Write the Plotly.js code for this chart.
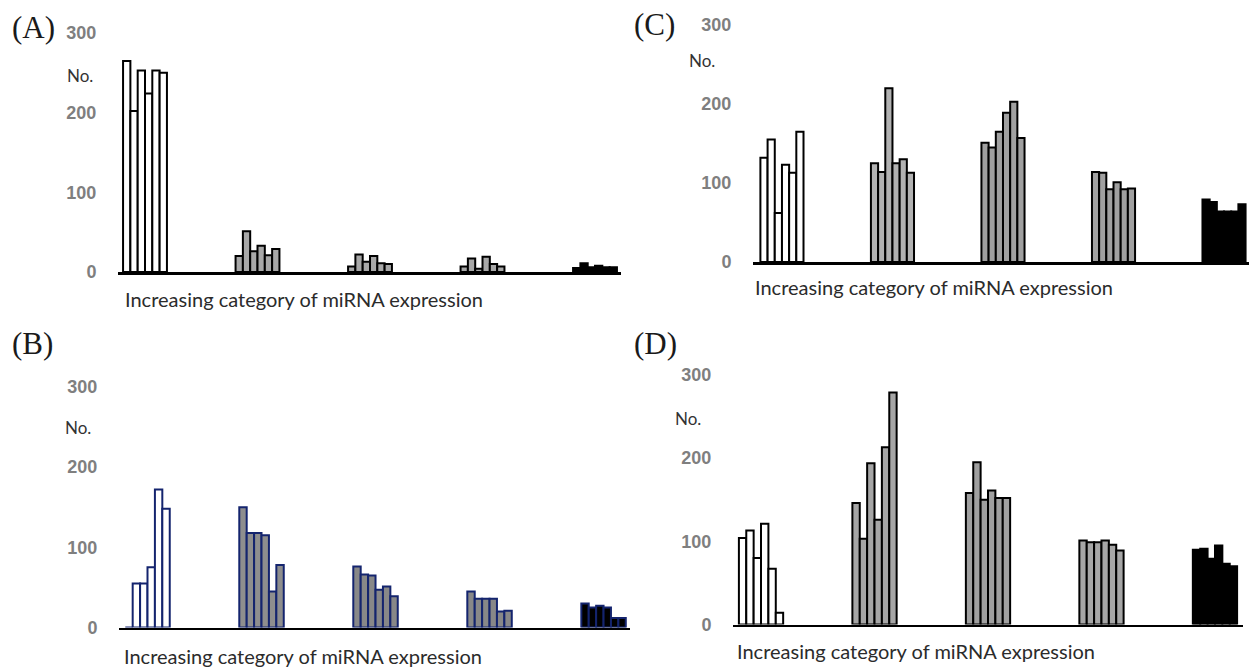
<!DOCTYPE html>
<html>
<head>
<meta charset="utf-8">
<script src="https://cdn.plot.ly/plotly-3.0.1.min.js"></script>
<style>html,body{margin:0;padding:0;background:#fff;}#chart{width:1249px;height:670px;}</style>
</head>
<body>
<div id="chart"></div>
<script>
// Expression categories (x) and 6 bars per category
const categories = ['1', '2', '3', '4', '5'];
const yTicks = [0, 100, 200, 300];
const yTickText = ['0', '100', '200', '300'];

// Values: one row per category, 6 bars each
const valuesA = [
  [265, 202, 253, 224, 253, 250],
  [20, 51, 26, 33, 21, 29],
  [7, 22, 13, 20, 11, 10],
  [7, 17, 4, 19, 10, 7],
  [5, 11, 6, 8, 6, 6]
];
const valuesB = [
  [0, 55, 55, 75, 172, 148],
  [150, 118, 118, 115, 45, 78],
  [76, 66, 65, 47, 51, 39],
  [45, 36, 36, 36, 20, 21],
  [30, 25, 27, 25, 12, 12]
];
const valuesC = [
  [132, 155, 62, 123, 113, 165],
  [125, 114, 220, 125, 130, 113],
  [151, 145, 165, 189, 203, 157],
  [114, 113, 92, 101, 92, 93],
  [79, 76, 64, 64, 64, 73]
];
const valuesD = [
  [104, 113, 80, 121, 67, 14],
  [146, 103, 194, 126, 213, 279],
  [158, 195, 150, 161, 152, 152],
  [101, 99, 99, 101, 96, 89],
  [90, 91, 79, 95, 73, 70]
];

const fillA = ['#ffffff', '#a8a8a8', '#a8a8a8', '#a8a8a8', '#000000'];
const fillB = ['#ffffff', '#8e8e8e', '#888888', '#888888', '#000000'];
const fillC = ['#ffffff', '#b2b2b2', '#a0a0a0', '#a0a0a0', '#000000'];
const fillD = ['#ffffff', '#a6a6a6', '#a0a0a0', '#a6a6a6', '#000000'];

const panels = [
  {id: '', label: '(A)', values: valuesA, fill: fillA, edge: '#000000',
   xd: [118, 621], yd: [272, 33], xr: [-0.24, 4.231],
   lab: [10, 27], no: [95, 75], title: [123, 299]},
  {id: '2', label: '(B)', values: valuesB, fill: fillB, edge: '#14246e',
   xd: [119, 630], yd: [627.5, 387], xr: [-0.25, 4.232],
   lab: [10, 343], no: [93, 427], title: [122, 656]},
  {id: '3', label: '(C)', values: valuesC, fill: fillC, edge: '#000000',
   xd: [753, 1249], yd: [262, 25], xr: [-0.262, 4.226],
   lab: [632, 25], no: [717, 60], title: [753, 287]},
  {id: '4', label: '(D)', values: valuesD, fill: fillD, edge: '#000000',
   xd: [733, 1243], yd: [624.5, 375], xr: [-0.247, 4.247],
   lab: [632, 343], no: [703, 418], title: [735, 651]}
];

const W = 1249, H = 670;
const px = v => v / W;
const py = v => 1 - v / H;

const data = [];
const layout = {
  width: W, height: H,
  margin: {l: 0, r: 0, t: 0, b: 0},
  paper_bgcolor: '#ffffff', plot_bgcolor: 'rgba(0,0,0,0)',
  showlegend: false,
  barmode: 'group', bargap: 0.61, bargroupgap: 0,
  annotations: []
};

panels.forEach(p => {
  for (let i = 0; i < 6; i++) {
    data.push({
      type: 'bar',
      x: categories,
      y: p.values.map(row => row[i]),
      xaxis: 'x' + p.id, yaxis: 'y' + p.id,
      marker: {color: p.fill, line: {color: p.edge, width: 2}},
      hoverinfo: 'y'
    });
  }
  layout['xaxis' + p.id] = {
    domain: [px(p.xd[0]), px(p.xd[1])],
    anchor: 'y' + p.id,
    type: 'category',
    range: p.xr,
    showline: true, linecolor: '#000000', linewidth: 2.5,
    showgrid: false, zeroline: false, showticklabels: false, ticks: '',
    fixedrange: true
  };
  layout['yaxis' + p.id] = {
    domain: [py(p.yd[0]), py(p.yd[1])],
    anchor: 'x' + p.id,
    range: [0, 300],
    tickvals: yTicks, ticktext: yTickText,
    showline: false, showgrid: false, zeroline: false,
    ticks: 'outside', ticklen: 17, tickcolor: 'rgba(0,0,0,0)',
    tickfont: {family: 'Liberation Sans, Arial, sans-serif', size: 18, color: '#7f7f7f', weight: 'bold'},
    fixedrange: true
  };
  layout.annotations.push({
    text: p.label, xref: 'paper', yref: 'paper',
    x: px(p.lab[0]), y: py(p.lab[1]), xanchor: 'left', yanchor: 'middle',
    showarrow: false,
    font: {family: 'Liberation Serif, Times New Roman, serif', size: 31, color: '#1a1a1a'}
  });
  layout.annotations.push({
    text: 'No.', xref: 'paper', yref: 'paper',
    x: px(p.no[0]), y: py(p.no[1]), xanchor: 'right', yanchor: 'middle',
    showarrow: false,
    font: {family: 'Lato, sans-serif', size: 17, color: '#333333'}
  });
  layout.annotations.push({
    text: 'Increasing category of miRNA expression', xref: 'paper', yref: 'paper',
    x: px(p.title[0]), y: py(p.title[1]), xanchor: 'left', yanchor: 'middle',
    showarrow: false,
    font: {family: 'Lato, sans-serif', size: 20, color: '#2b2b2b'}
  });
});

Plotly.newPlot('chart', data, layout, {displayModeBar: false, staticPlot: true});
</script>
</body>
</html>
